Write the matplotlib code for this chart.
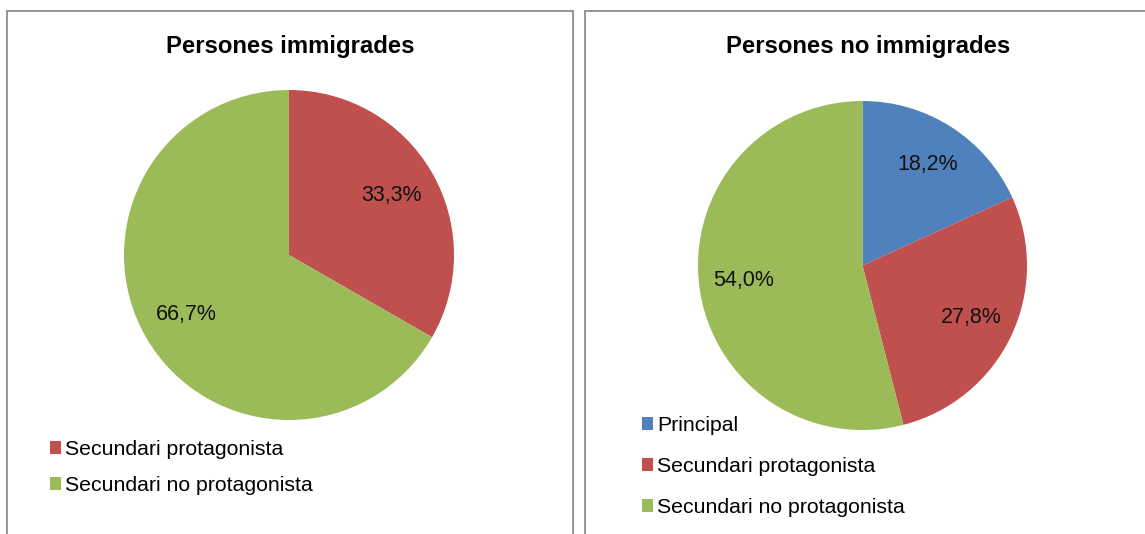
import matplotlib
matplotlib.use("Agg")
import matplotlib.pyplot as plt
from matplotlib.patches import Rectangle

# data
titles = ["Persones immigrades", "Persones no immigrades"]
labels_imm = ["Secundari protagonista", "Secundari no protagonista"]
values_imm = [33.3, 66.7]
labels_noimm = ["Principal", "Secundari protagonista", "Secundari no protagonista"]
values_noimm = [18.2, 27.8, 54.0]

blue, red, green = "#4F81BD", "#C0504D", "#9BBB59"
colors_imm = [red, green]
colors_noimm = [blue, red, green]

W, H = 1145, 534
plt.rcParams["font.family"] = ["Liberation Sans", "DejaVu Sans"]

fig = plt.figure(figsize=(W / 100, H / 100), dpi=100)


def px_axes(cx, cy, r):
    # square axes around a pie centre given in pixel coords (y down)
    return fig.add_axes([(cx - r) / W, (H - cy - r) / H, 2 * r / W, 2 * r / H])


def fmt(p):
    return ("%.1f%%" % p).replace(".", ",")


# panel frames
for x0, x1 in [(7, 573), (585, 1200)]:
    fig.patches.append(Rectangle((x0 / W, -0.1), (x1 - x0) / W, (H - 11) / H + 0.1,
                                 transform=fig.transFigure, fill=False,
                                 edgecolor="#8c8c8c", linewidth=1.3))

panels = [
    (289, 255, 165, values_imm, labels_imm, colors_imm, 0.72, 290, 0.81, (50, 440)),
    (862.5, 265.5, 164.5, values_noimm, labels_noimm, colors_noimm, 0.73, 868, 1.04, (642, 416)),
]

for i, (cx, cy, r, vals, labs, cols, pd, tx, lsp, lpos) in enumerate(panels):
    ax = px_axes(cx, cy, r)
    wedges, texts, autotexts = ax.pie(vals, colors=cols, startangle=90, counterclock=False,
                                      autopct=fmt, pctdistance=pd,
                                      wedgeprops=dict(linewidth=0),
                                      textprops=dict(fontsize=15.5, color="#111111"))
    ax.set_xlim(-1, 1)
    ax.set_ylim(-1, 1)
    ax.set_aspect("equal")
    fig.text(tx / W, (H - 46) / H, titles[i], ha="center", va="center",
             fontsize=17.2, fontweight="bold")
    fig.legend(wedges, labs, loc="upper left", bbox_to_anchor=(lpos[0] / W, (H - lpos[1]) / H),
               bbox_transform=fig.transFigure, frameon=False, fontsize=15.3,
               handlelength=0.52, handleheight=0.52, handletextpad=0.2,
               labelspacing=lsp, borderpad=0, borderaxespad=0)

fig.savefig("out.png", dpi=100)
